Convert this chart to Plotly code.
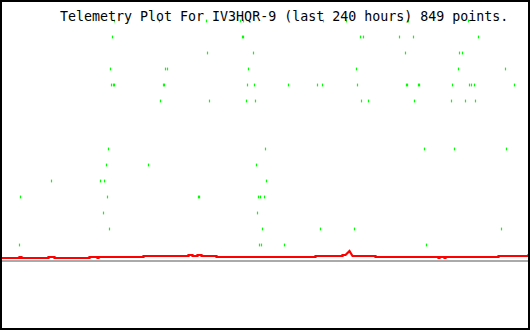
import plotly.graph_objects as go

# Title text
title_text = "Telemetry Plot For IV3HQR-9 (last 240 hours) 849 points."

# Green channel: discrete levels (value) and the sample positions at each level
green_levels = [309, 293, 277, 261, 245, 229, 181, 165, 149, 133, 117, 101, 85]
green_positions = [
    [114, 159, 206, 240, 243, 323, 346, 408, 468],
    [112, 242, 243, 360, 363, 399, 413, 478],
    [207, 253, 405, 459, 462],
    [110, 165, 167, 248, 356, 458, 505],
    [111, 113, 114, 163, 164, 247, 254, 288, 317, 322, 357, 406, 407, 418, 419, 452, 469, 471, 474, 514],
    [160, 209, 246, 255, 361, 368, 414, 451, 465, 475],
    [108, 265, 424, 454, 506],
    [106, 148, 256],
    [51, 100, 104, 266],
    [20, 107, 198, 199, 258, 260, 264],
    [103, 257],
    [109, 262, 320, 354, 501],
    [19, 259, 261, 284, 426],
]

# Red channel (sample position, value)
red_x = [0, 19, 19, 21, 21, 48, 48, 54, 54, 89, 89, 97, 97, 98, 98, 143, 143, 188,
         188, 192, 192, 197, 197, 201, 201, 216, 216, 217, 217, 315, 315, 342, 342, 345,
         349,
         352, 375, 375, 438, 438, 439, 439, 444, 444, 445, 445, 498, 498, 528, 528, 530]
red_y = [72, 72, 73, 73, 72, 72, 73, 73, 72, 72, 73, 73, 72, 72,
         73, 73, 74, 74, 75, 75, 74, 74, 75, 75, 74, 74, 73, 73,
         73, 73, 74, 74, 75, 75,
         79,
         74, 74, 73, 73, 72, 72, 73, 73, 72, 72, 73, 73, 74, 74,
         75, 75]

# Gray reference level
gray_x = [0, 530]
gray_y = [69, 69]

gx, gy = [], []
for lvl, xs in zip(green_levels, green_positions):
    for x in xs:
        gx.append(x)
        gy.append(lvl)

fig = go.Figure()
fig.add_trace(go.Scatter(x=gray_x, y=gray_y, mode="lines",
                         line=dict(color="#aaaaaa", width=2), hoverinfo="skip"))
fig.add_trace(go.Scatter(x=red_x, y=red_y, mode="lines",
                         line=dict(color="#ff0000", width=2.2), hoverinfo="skip"))
fig.add_trace(go.Scatter(x=gx, y=gy, mode="markers",
                         marker=dict(symbol="line-ns", size=2,
                                     line=dict(color="#00ff00", width=1.2)),
                         hoverinfo="skip"))

fig.add_annotation(text=title_text, xref="paper", yref="paper",
                   x=58 / 530, y=1 - 16.8 / 330, xanchor="left", yanchor="middle",
                   showarrow=False,
                   font=dict(family="DejaVu Sans Mono", size=13.3, color="#000000"))

fig.add_shape(type="rect", xref="paper", yref="paper", x0=0, y0=0, x1=1, y1=1,
              line=dict(color="#000000", width=4), layer="above")

fig.update_layout(
    width=530, height=330,
    margin=dict(l=0, r=0, t=0, b=0),
    paper_bgcolor="#ffffff", plot_bgcolor="#ffffff",
    showlegend=False,
    xaxis=dict(range=[-0.5, 529.5], visible=False, fixedrange=True),
    yaxis=dict(range=[0, 330], visible=False, fixedrange=True),
)

fig.write_html("out.html", config={"displayModeBar": False})
